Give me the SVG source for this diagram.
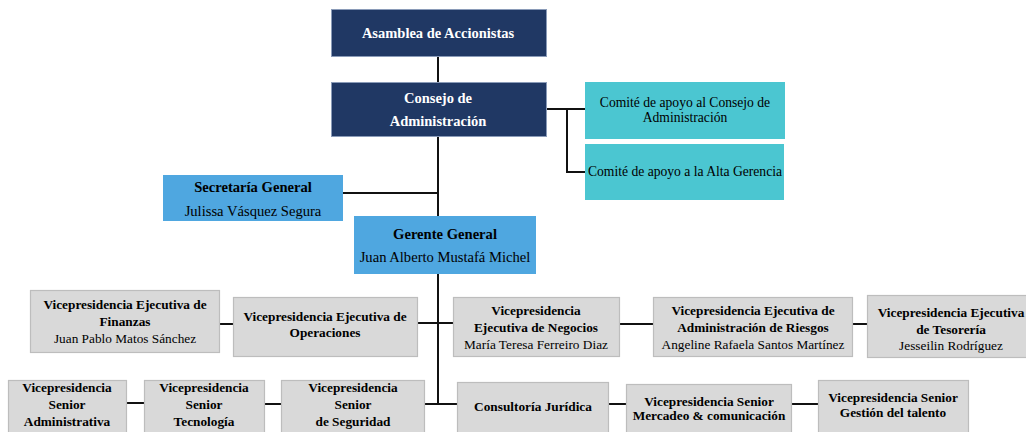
<svg xmlns="http://www.w3.org/2000/svg" width="1026" height="432" viewBox="0 0 1026 432">
<style>
text{font-family:"Liberation Serif","Times New Roman",serif;text-anchor:middle;font-size:13.3px}
.b{font-weight:bold}
.w{fill:#ffffff;font-size:14.5px}
.l{font-size:14.6px}
.m{font-size:13.6px}
.navy{fill:#203864;stroke:#8a9bb8;stroke-width:1}
.cyan{fill:#4BC6D1}
.blue{fill:#4FA7E0}
.gray{fill:#D9D9D9;stroke:#BDBDBD;stroke-width:1.2}
.c{stroke:#111;stroke-width:2;fill:none}
</style>
<rect width="1026" height="432" fill="#ffffff"/>
<g id="connectors">
<path class="c" d="M438,56V82M438,136V404M546,109H585M567,109V172H585M343,193H438M417,323H453M425,404H457"/>
<path class="c" d="M220,324H233M620,324H653M853,324H867M127,403H144M265,404H281M609,404H626M792,404H818"/>
</g>
<g id="asamblea"><rect class="navy" x="331.5" y="9.5" width="215" height="47"/><text class="b w" x="438" y="38">Asamblea de Accionistas</text></g>
<g id="consejo"><rect class="navy" x="331.5" y="82.5" width="215" height="54"/><text class="b w" x="438" y="103">Consejo de</text><text class="b w" x="438" y="126">Administración</text></g>
<g id="comite1"><rect class="cyan" x="585" y="82" width="200" height="57"/><text class="m" x="685" y="107">Comité de apoyo al Consejo de</text><text class="m" x="685" y="122">Administración</text></g>
<g id="comite2"><rect class="cyan" x="585" y="144" width="199" height="56"/><text class="m" x="685" y="176">Comité de apoyo a la Alta Gerencia</text></g>
<g id="secretaria"><rect class="blue" x="163" y="175" width="180" height="46"/><text class="b l" x="253" y="192">Secretaría General</text><text class="l" x="253" y="216">Julissa Vásquez Segura</text></g>
<g id="gerente"><rect class="blue" x="354" y="216" width="182" height="58"/><text class="b l" x="445" y="239">Gerente General</text><text class="l" x="445" y="262">Juan Alberto Mustafá Michel</text></g>
<g id="finanzas"><rect class="gray" x="30.5" y="290.5" width="189" height="62"/><text class="b" x="125" y="309">Vicepresidencia Ejecutiva de</text><text class="b" x="125" y="326">Finanzas</text><text x="125" y="343">Juan Pablo Matos Sánchez</text></g>
<g id="operaciones"><rect class="gray" x="233.5" y="297.5" width="184" height="59"/><text class="b" x="325" y="321">Vicepresidencia Ejecutiva de</text><text class="b" x="325" y="337">Operaciones</text></g>
<g id="negocios"><rect class="gray" x="453.5" y="297.5" width="166" height="59"/><text class="b" x="536" y="315">Vicepresidencia</text><text class="b" x="536" y="332">Ejecutiva de Negocios</text><text x="536" y="349">María Teresa Ferreiro Diaz</text></g>
<g id="riesgos"><rect class="gray" x="653.5" y="297.5" width="199" height="59"/><text class="b" x="753" y="315">Vicepresidencia Ejecutiva de</text><text class="b" x="753" y="332">Administración de Riesgos</text><text x="753" y="349">Angeline Rafaela Santos Martínez</text></g>
<g id="tesoreria"><rect class="gray" x="867.5" y="295.5" width="170" height="62"/><text class="b" x="951" y="317">Vicepresidencia Ejecutiva</text><text class="b" x="951" y="334">de Tesorería</text><text x="951" y="350">Jesseilin Rodríguez</text></g>
<g id="administrativa"><rect class="gray" x="8.5" y="380.5" width="118" height="55"/><text class="b" x="67" y="392">Vicepresidencia</text><text class="b" x="67" y="409">Senior</text><text class="b" x="67" y="426">Administrativa</text></g>
<g id="tecnologia"><rect class="gray" x="144.5" y="380.5" width="120" height="55"/><text class="b" x="204" y="392">Vicepresidencia</text><text class="b" x="204" y="409">Senior</text><text class="b" x="204" y="426">Tecnología</text></g>
<g id="seguridad"><rect class="gray" x="281.5" y="380.5" width="143" height="55"/><text class="b" x="353" y="392">Vicepresidencia</text><text class="b" x="353" y="409">Senior</text><text class="b" x="353" y="426">de Seguridad</text></g>
<g id="consultoria"><rect class="gray" x="457.5" y="382.5" width="151" height="55"/><text class="b" x="533" y="411">Consultoría Jurídica</text></g>
<g id="mercadeo"><rect class="gray" x="626.5" y="384.5" width="165" height="55"/><text class="b" x="709" y="406">Vicepresidencia Senior</text><text class="b" x="709" y="420">Mercadeo &amp; comunicación</text></g>
<g id="talento"><rect class="gray" x="818.5" y="380.5" width="150" height="55"/><text class="b" x="893" y="402">Vicepresidencia Senior</text><text class="b" x="893" y="417">Gestión del talento</text></g>
</svg>
